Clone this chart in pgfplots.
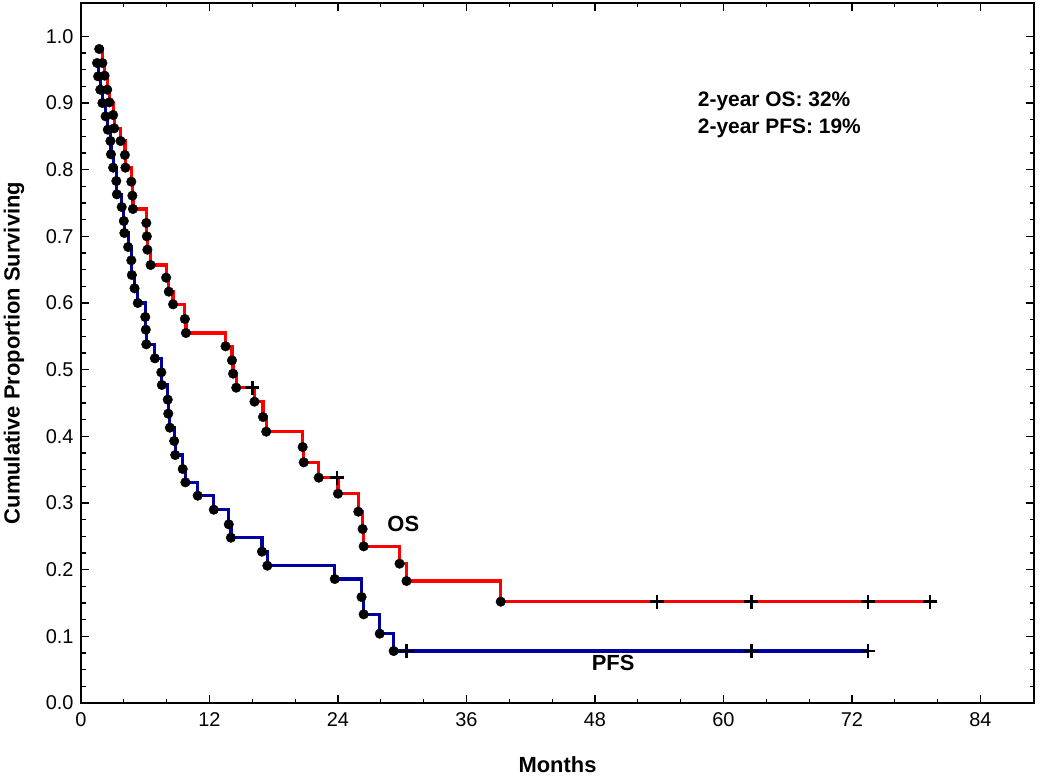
\documentclass[border=0pt]{standalone}
\usepackage{fontspec}
\setmainfont{Liberation Sans}
\usepackage{pgfplots}
\pgfplotsset{compat=1.18}
\usepackage{pgfplotstable}
\definecolor{osred}{RGB}{255,0,0}
\definecolor{pfsblue}{RGB}{0,0,160}

\pgfplotstableread{
t S
1.7 0.981
2.0 0.960
2.2 0.941
2.45 0.920
2.65 0.901
3.0 0.882
3.1 0.862
3.7 0.843
4.1 0.822
4.15 0.803
4.7 0.782
4.8 0.761
4.85 0.741
6.1 0.720
6.15 0.700
6.2 0.680
6.5 0.657
7.95 0.638
8.2 0.617
8.6 0.598
9.7 0.576
9.8 0.555
13.5 0.535
14.1 0.514
14.2 0.494
14.5 0.473
16.2 0.452
17.0 0.429
17.3 0.407
20.7 0.384
20.8 0.361
22.2 0.338
24.0 0.314
25.9 0.287
26.3 0.261
26.4 0.235
29.75 0.209
30.4 0.183
39.2 0.152
}\osdata

\pgfplotstableread{
t S
1.5 0.960
1.6 0.940
1.8 0.920
2.0 0.900
2.3 0.880
2.5 0.860
2.75 0.843
2.8 0.823
3.0 0.803
3.3 0.783
3.35 0.763
3.8 0.744
4.0 0.723
4.05 0.705
4.4 0.684
4.7 0.664
4.75 0.642
5.0 0.622
5.3 0.600
6.0 0.579
6.05 0.560
6.1 0.538
6.9 0.517
7.5 0.496
7.55 0.477
8.1 0.455
8.15 0.434
8.3 0.413
8.7 0.393
8.8 0.372
9.5 0.351
9.75 0.331
10.9 0.311
12.4 0.290
13.8 0.268
14.0 0.248
16.9 0.227
17.4 0.206
23.7 0.186
26.2 0.159
26.4 0.133
27.9 0.104
29.2 0.078
}\pfsdata

\begin{document}
\begin{tikzpicture}
\path[use as bounding box] (-81bp,-73bp) rectangle (969bp,703bp);
\begin{axis}[
  at={(0,0)}, anchor=south west,
  scale only axis, width=953bp, height=700bp,
  xmin=0, xmax=89, ymin=0, ymax=1.05,
  xtick={0,12,...,84}, minor x tick num=2,
  ytick={0,0.1,...,1.0}, minor y tick num=3,
  tick align=inside,
  major tick length=8bp, minor tick length=4.5bp,
  every tick/.style={black, line width=1.2bp},
  axis line style={line width=2bp},
  tick label style={font=\fontsize{20}{24}\selectfont},
  xticklabel style={yshift=-6bp},
  yticklabel style={xshift=-4bp},
  /pgf/number format/assume math mode=true,
  yticklabel style={/pgf/number format/.cd, fixed, fixed zerofill, precision=1},
  xlabel={Months},
  ylabel={Cumulative Proportion Surviving},
  xlabel style={at={(axis description cs:0.5,-0.0886)}, anchor=center, font=\bfseries\fontsize{22}{26}\selectfont},
  ylabel style={at={(axis description cs:-0.0703,0.5)}, anchor=center, font=\bfseries\fontsize{22}{26}\selectfont},
]
\addplot[const plot, pfsblue, line width=3.2bp] table[x=t,y=S] {\pfsdata};
\addplot[pfsblue, line width=3.2bp] coordinates {(29.2,0.078) (73.5,0.078)};
\addplot[const plot, osred, line width=3.2bp] table[x=t,y=S] {\osdata};
\addplot[osred, line width=3.2bp] coordinates {(39.2,0.152) (79.3,0.152)};
\addplot[only marks, mark=*, mark size=4.8bp, black] table[x=t,y=S] {\pfsdata};
\addplot[only marks, mark=*, mark size=4.8bp, black] table[x=t,y=S] {\osdata};
\addplot[only marks, mark=+, mark size=7bp, black, mark options={line width=2.6bp}] coordinates {
 (16.0,0.473) (23.9,0.338) (53.8,0.152) (62.6,0.152) (73.5,0.152) (79.3,0.152)};
\addplot[only marks, mark=+, mark size=7bp, black, mark options={line width=2.6bp}] coordinates {
 (30.4,0.078) (62.6,0.078) (73.5,0.078)};
\node[font=\bfseries\fontsize{22}{26}\selectfont] at (axis cs:30.1,0.268) {OS};
\node[font=\bfseries\fontsize{22}{26}\selectfont] at (axis cs:49.7,0.06) {PFS};
\node[anchor=west, align=left, inner sep=0pt, font=\bfseries\fontsize{21}{27}\selectfont] at (axis cs:57.6,0.882) {2-year OS: 32\%\\2-year PFS: 19\%};
\end{axis}
\end{tikzpicture}
\end{document}
